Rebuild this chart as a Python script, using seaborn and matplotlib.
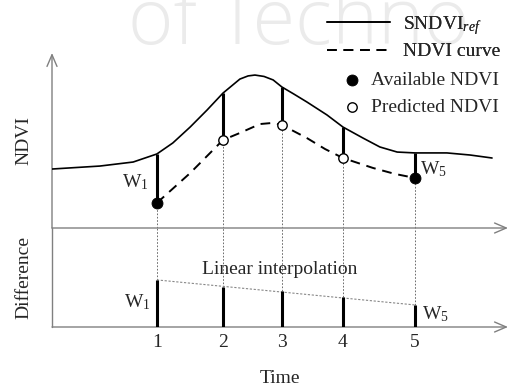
import numpy as np
import pandas as pd
import matplotlib
matplotlib.use("Agg")
import matplotlib.pyplot as plt
import seaborn as sns

# Reference (smoothed) NDVI trajectory across the season
ref_day = [0.0, 10.5, 17.8, 23.0, 26.5, 30.3, 34.0, 37.5, 41.2, 43.0, 44.5,
           46.5, 48.5, 50.4, 53.0, 55.9, 60.3, 63.8, 68.2, 71.9, 75.7, 79.6,
           86.6, 91.7, 96.5]
ref_ndvi = [0.337, 0.354, 0.377, 0.423, 0.486, 0.577, 0.674, 0.771, 0.851,
            0.869, 0.874, 0.866, 0.846, 0.806, 0.766, 0.720, 0.646, 0.577,
            0.514, 0.463, 0.434, 0.429, 0.429, 0.417, 0.400]

# NDVI curve of the target pixel
ndvi_day = [23.0, 30.3, 37.5, 41.2, 45.6, 48.2, 50.4, 55.9, 59.9, 63.8,
            70.4, 75.2, 79.6]
ndvi_val = [0.143, 0.314, 0.503, 0.543, 0.594, 0.600, 0.589, 0.514, 0.451,
            0.400, 0.343, 0.309, 0.286]

# Observation dates
obs_time = [23.0, 37.5, 50.4, 63.8, 79.6]
obs_label = ["1", "2", "3", "4", "5"]
obs_ndvi = [0.143, 0.503, 0.589, 0.400, 0.286]
obs_ref = [0.423, 0.771, 0.806, 0.577, 0.429]
obs_available = [True, False, False, False, True]
obs_diff = [0.269, 0.229, 0.206, 0.171, 0.126]

sns.set_theme(style="white")
plt.rcParams["font.family"] = ["Liberation Serif", "DejaVu Serif"]
plt.rcParams["mathtext.fontset"] = "custom"
plt.rcParams["mathtext.rm"] = "Liberation Serif"
plt.rcParams["mathtext.it"] = "Liberation Serif:italic"

W, H = 509, 390
fig = plt.figure(figsize=(W / 100, H / 100), dpi=100)
fig.patch.set_facecolor("white")

# faint background lettering
fig.text(128 / W, 1 - 44 / H, "of Techno", family="Open Sans",
         fontweight="light", fontsize=56, color="#ebebeb", ha="left",
         va="baseline", zorder=0)

x0, x1 = 52, 508
ax = fig.add_axes([x0 / W, (H - 228) / H, (x1 - x0) / W, 175 / H])
ax2 = fig.add_axes([x0 / W, (H - 327) / H, (x1 - x0) / W, 99 / H])
for a in (ax, ax2):
    a.set_facecolor("none")
    for s in a.spines.values():
        s.set_visible(False)
    a.set_xlim(0, 100)
    a.tick_params(length=0)
ax.set_ylim(0, 1)
ax2.set_ylim(0, 99 / 175)

axis_col = "#808080"
arrow = dict(arrowstyle="->,head_length=0.7,head_width=0.3", color=axis_col,
             lw=1.0, shrinkA=0, shrinkB=0)
ax.annotate("", xy=(0, 1.0), xytext=(0, 0), xycoords="axes fraction",
            arrowprops=arrow)
ax.annotate("", xy=(1, 0), xytext=(0, 0), xycoords="axes fraction",
            arrowprops=arrow)
ax2.annotate("", xy=(1, 0), xytext=(0, 0), xycoords="axes fraction",
             arrowprops=arrow)
ax2.plot([0, 0], [0, 1], transform=ax2.transAxes, color=axis_col, lw=1.0,
         clip_on=False)

ref_df = pd.DataFrame({"day": ref_day, "ndvi": ref_ndvi})
cur_df = pd.DataFrame({"day": ndvi_day, "ndvi": ndvi_val})
obs_df = pd.DataFrame({"day": obs_time, "ndvi": obs_ndvi, "ref": obs_ref,
                       "available": obs_available, "diff": obs_diff})

sns.lineplot(data=ref_df, x="day", y="ndvi", ax=ax, color="black", lw=1.2,
             label="SNDVI$_{\\mathit{ref}}$", zorder=3)
sns.lineplot(data=cur_df, x="day", y="ndvi", ax=ax, color="black", lw=1.4,
             label="NDVI curve", zorder=3)
ax.lines[-1].set_dashes([5, 3.5])

# gaps between reference and target curve
ax.vlines(obs_df["day"], obs_df["ndvi"], obs_df["ref"], color="black",
          lw=2.2, zorder=4)
ax.vlines(obs_df["day"], 0, obs_df["ndvi"], color="#555555", lw=0.6,
          linestyles=(0, (2, 2)), zorder=2)

avail = obs_df[obs_df["available"]]
pred = obs_df[~obs_df["available"]]
sns.scatterplot(data=avail, x="day", y="ndvi", ax=ax, color="black",
                edgecolor="black", s=62, zorder=6, label="Available NDVI")
sns.scatterplot(data=pred, x="day", y="ndvi", ax=ax, color="white",
                edgecolor="black", linewidth=1.0, s=46, zorder=6,
                label="Predicted NDVI")

# difference panel
ax2.vlines(obs_df["day"], 0, obs_df["diff"], color="black", lw=2.2,
           zorder=4)
ax2.vlines(obs_df["day"], obs_df["diff"], 99 / 175, color="#555555", lw=0.6,
           linestyles=(0, (2, 2)), zorder=2)
ax2.plot([obs_time[0], obs_time[-1]], [obs_diff[0], obs_diff[-1]],
         color="#888888", lw=0.8, dashes=(2, 1.5), zorder=3)

fs = 14
ax2.text(50, 0.33, "Linear interpolation", ha="center", va="center",
         fontsize=fs)

ax.annotate("W$_1$", xy=(obs_time[0], (obs_ndvi[0] + obs_ref[0]) / 2),
            xytext=(-8, -4), textcoords="offset pixels", ha="right",
            va="center", fontsize=fs)
ax.annotate("W$_5$", xy=(obs_time[4], (obs_ndvi[4] + obs_ref[4]) / 2),
            xytext=(5, -4), textcoords="offset pixels", ha="left",
            va="center", fontsize=fs)
ax2.annotate("W$_1$", xy=(obs_time[0], obs_diff[0] / 2),
             xytext=(-6, 1), textcoords="offset pixels", ha="right",
             va="center", fontsize=fs)
ax2.annotate("W$_5$", xy=(obs_time[4], obs_diff[4] / 2),
             xytext=(7, 2), textcoords="offset pixels", ha="left",
             va="center", fontsize=fs)

ax.set_xticks([])
ax.set_yticks([])
ax2.set_yticks([])
ax2.set_xticks(obs_time)
ax2.set_xticklabels(obs_label, fontsize=fs)
ax2.tick_params(axis="x", pad=5)
ax.set_xlabel("")
ax.set_ylabel("NDVI", fontsize=fs, labelpad=14)
ax2.set_ylabel("Difference", fontsize=fs, labelpad=14)
ax2.set_xlabel("Time", fontsize=fs, labelpad=14)

handles, labels = ax.get_legend_handles_labels()
ax.get_legend().remove()
leg_lines = fig.legend(handles[:2], labels[:2], loc="upper left",
                       bbox_to_anchor=(327 / W, 1 - 14 / H), frameon=False,
                       fontsize=fs, borderpad=0, borderaxespad=0,
                       handlelength=3.25, handletextpad=0.67,
                       labelspacing=0.3)
fig.add_artist(leg_lines)
fig.legend(handles[2:], labels[2:], loc="upper left",
           bbox_to_anchor=(342 / W, 1 - 71 / H), frameon=False,
           fontsize=fs, borderpad=0, borderaxespad=0, handlelength=1.0,
           handletextpad=0.5, labelspacing=0.5)

fig.savefig("out.png", dpi=100, facecolor="white")
